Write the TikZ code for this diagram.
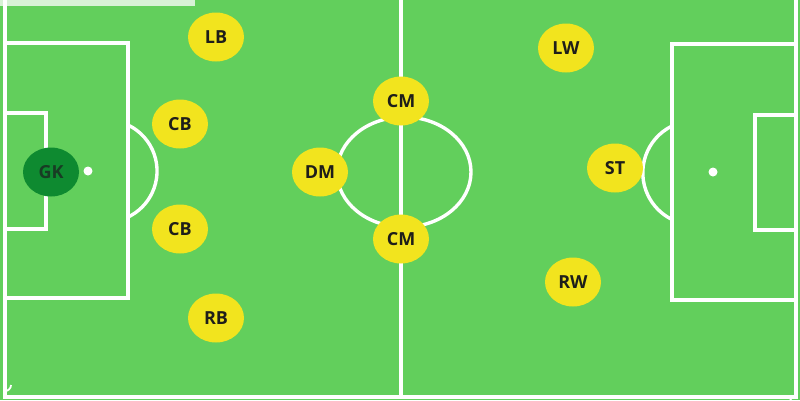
\documentclass[tikz,border=0pt]{standalone}
\usepackage{fontspec}
\setmainfont{Open Sans}
\usetikzlibrary{shapes.geometric}
\definecolor{pitch}{RGB}{98,207,92}
\definecolor{pyellow}{RGB}{242,228,30}
\definecolor{gkgreen}{RGB}{14,138,48}
\definecolor{ink}{RGB}{30,30,26}
\definecolor{gkink}{RGB}{24,60,36}
\tikzset{
  line/.style={draw=white, line width=3.4pt},
  player/.style={ellipse, fill=pyellow, minimum width=56pt, minimum height=49pt, inner sep=0pt,
    text=ink, font=\fontsize{18}{18}\selectfont\bfseries},
  keeper/.style={player, fill=gkgreen, text=gkink},
  spot/.style={circle, fill=white, minimum size=9pt, inner sep=0pt}
}
\begin{document}
\begin{tikzpicture}[x=1pt,y=-1pt]
\useasboundingbox (0,0) rectangle (800,400);
\fill[pitch] (0,0) rectangle (800,400);
\fill[white, opacity=0.75] (0,0) rectangle (195,6);
% outer lines
\draw[line] (5,0) -- (5,397) -- (796,397) -- (796,0);
% halfway line and centre circle
\draw[line] (401,0) -- (401,397);
\draw[line] (404,172) ellipse [x radius=67, y radius=55];
% left penalty area
\draw[line] (5,43) -- (128,43) -- (128,298) -- (5,298);
\draw[line] (5,113) -- (46,113) -- (46,229) -- (5,229);
\draw[line] (128,125) arc [start angle=-64.5, end angle=64.5, radius=51] ;
\node[spot] (lspot) at (88,171) {};
% right penalty area
\draw[line] (796,44) -- (672,44) -- (672,300) -- (796,300);
\draw[line] (796,115) -- (755,115) -- (755,230) -- (796,230);
\draw[line] (672,126) arc [start angle=244, end angle=116, radius=52];
\node[spot] (rspot) at (713,172) {};
% corners
\draw[line, line width=1.8pt] (5,391) arc [start angle=90, end angle=0, radius=6];
\draw[line, line width=1.8pt] (790,397) arc [start angle=180, end angle=90, radius=6];
% players
\node[keeper] (gk) at (51,172) {GK};
\node[player] (lb) at (216,37) {LB};
\node[player] (cb1) at (180,124) {CB};
\node[player] (cb2) at (180,229) {CB};
\node[player] (rb) at (216,318) {RB};
\node[player] (dm) at (320,172) {DM};
\node[player] (cm1) at (401,101) {CM};
\node[player] (cm2) at (401,239) {CM};
\node[player] (lw) at (566,48) {LW};
\node[player] (st) at (615,168) {ST};
\node[player] (rw) at (573,282) {RW};
\end{tikzpicture}
\end{document}
